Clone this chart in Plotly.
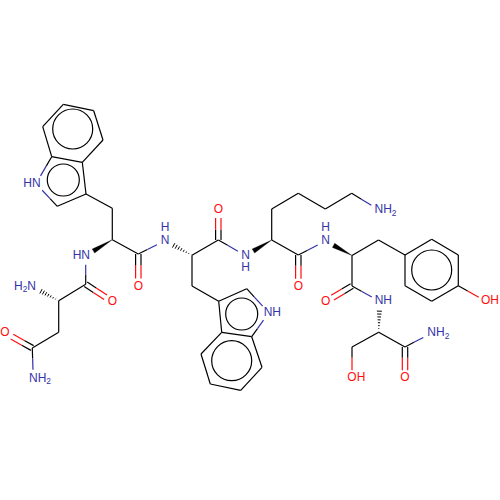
import math
import plotly.graph_objects as go

# ---- Data ----
atom_names = ["t1","t2","t3","t4","t5","t6","t7","t8","tN","tCH2","tCa","tCO","tO","tNH",
              "aCO","aO","aCa","aN","aCH2","aCO2","aO2","aN2",
              "uNH","uCa","uCO","uO","uCH2","u7","u8","uN","u6","u5","u4","u3","u2","u1",
              "kNH","kCa","kCO","kO","kB","kG","kD","kE","kNz",
              "yNH","yCa","yCO","yO","yCH2","y1","y2","y3","y4","y5","y6","yOH",
              "sNH","sCa","sCO","sO","sN","sCH2","sOH"]
atom_x = [42.7,63.3,93.7,103.0,82.3,51.7,86.0,57.3,36.0,112.3,112.3,138.3,138.3,85.7,
          85.7,112.3,58.7,32.3,58.7,32.3,5.0,33.3,
          165.0,192.0,218.3,218.3,192.0,218.7,246.7,268.7,251.7,221.7,201.0,210.3,240.7,262.0,
          245.7,271.7,298.3,298.3,271.7,298.3,325.3,351.7,379.0,
          325.7,352.0,352.0,325.7,378.5,405.0,431.7,458.3,458.3,431.7,405.0,485.7,
          379.7,378.7,405.0,405.0,431.3,352.0,352.0]
atom_y = [126.7,104.3,110.7,140.0,162.3,156.7,194.0,206.3,183.7,208.3,239.7,254.0,286.5,255.7,
          284.3,301.7,300.7,286.7,332.3,348.0,332.7,378.7,
          240.7,255.3,240.0,210.0,286.0,301.3,288.7,312.7,336.7,332.3,354.0,384.0,390.3,367.3,
          255.7,240.0,255.0,286.7,209.0,193.3,209.0,193.3,210.0,
          241.0,255.5,286.0,301.7,240.0,255.0,239.3,255.0,285.7,301.3,285.7,301.3,
          301.3,332.3,347.0,378.3,333.3,347.0,378.3]

single_from = ["t1","t2","t3","t4","t5","t6","t5","t7","t8","t6","t7","tCH2","tCa","tCO",
               "aCO","aCO","aCa","aCH2","aCO2",
               "uCa","uCa","uCH2","u7","u8","u6","u5","u4","u3","u2","u1","u1","u5","uCO",
               "kCa","kCa","kB","kG","kD","kE","kCO",
               "yCa","yCa","yCH2","y1","y2","y3","y4","y5","y6","y4","yCO",
               "sCa","sCO","sCa","sCH2"]
single_to = ["t2","t3","t4","t5","t6","t1","t7","t8","tN","tN","tCH2","tCa","tCO","uNH",
             "aCa","tNH","aCH2","aCO2","aN2",
             "uCO","uCH2","u7","u8","uN","uN","u6","u5","u4","u3","u2","u6","u7","kNH",
             "kCO","kB","kG","kD","kE","kNz","yNH",
             "yCO","yCH2","y1","y2","y3","y4","y5","y6","y1","yOH","sNH",
             "sCO","sN","sCH2","sOH"]
double_from = ["tCO","aCO","aCO2","uCO","kCO","yCO","sCO"]
double_to = ["tO","aO","aO2","uO","kO","yO","sO"]
wedge_from = ["tCa","kCa","yCa"]
wedge_to = ["tNH","kNH","yNH"]
hash_from = ["aCa","uCa","sCa"]
hash_to = ["aN","uNH","sNH"]
ring_x = [72.7,63.3,231.7,241.7,431.7]
ring_y = [129.0,180.0,360.7,314.0,270.0]
ring_r = [20,16,20,16,20]
label_text = ["HN","HN","H<sub>2</sub>N","O","O","O","NH<sub>2</sub>","N","H","O","NH","N","H","O",
              "NH<sub>2</sub>","N","H","O","NH","OH","NH<sub>2</sub>","O","OH"]
label_x = [32,81.3,25,138.3,112.3,5,40,165,165,218.3,272.3,245.7,245.7,298.3,
           385.5,325.7,325.7,325.7,383.3,490,438.3,405,356.3]
label_y = [183.7,255.7,286.7,286.5,301.7,332.7,378.7,240.7,228,210,312.7,255.7,268.4,286.7,
           210,241,228.3,301.7,301.3,301.3,333.3,378.3,378.3]
label_kind = ["N","N","N","O","O","O","N","N","N","O","N","N","N","O",
              "N","N","N","O","N","O","N","O","O"]

# ---- Styling ----
BLACK = "#000000"
BLUE = "#3333a8"
RED = "#ff0d0d"
COLOR = {"N": BLUE, "O": RED}
LW = 1.2
SPLIT = 0.34
GAP = {"N": 9.0, "O": 8.0}
DBL = 2.7
HETERO = {"tN","tO","tNH","aO","aN","aO2","aN2","uNH","uO","uN","kNH","kO","kNz",
          "yNH","yO","yOH","sNH","sO","sN","sOH"}

pos = {n: (x, y) for n, x, y in zip(atom_names, atom_x, atom_y)}

def kind(n):
    return "O" if "O" in n[1:] and n in HETERO else "N"

def segments(a, b, off=0.0):
    (x0, y0), (x1, y1) = pos[a], pos[b]
    if a in HETERO:
        (x0, y0), (x1, y1), a, b = (x1, y1), (x0, y0), b, a
    L = math.hypot(x1 - x0, y1 - y0)
    ux, uy = (x1 - x0) / L, (y1 - y0) / L
    nx, ny = -uy * off, ux * off
    x0, y0, x1, y1 = x0 + nx, y0 + ny, x1 + nx, y1 + ny
    if b not in HETERO:
        return [((x0, y0), (x1, y1), BLACK)]
    k = kind(b)
    mx, my = x0 + ux * L * SPLIT, y0 + uy * L * SPLIT
    ex, ey = x1 - ux * GAP[k], y1 - uy * GAP[k]
    return [((x0, y0), (mx, my), BLACK), ((mx, my), (ex, ey), COLOR[k])]

buckets = {BLACK: ([], []), BLUE: ([], []), RED: ([], [])}
def add(seglist):
    for p, q, c in seglist:
        buckets[c][0].extend([p[0], q[0], None])
        buckets[c][1].extend([p[1], q[1], None])

for a, b in zip(single_from, single_to):
    add(segments(a, b))
for a, b in zip(double_from, double_to):
    add(segments(a, b, DBL))
    add(segments(a, b, -DBL))

fig = go.Figure()
for c, (xs, ys) in buckets.items():
    fig.add_trace(go.Scatter(x=xs, y=ys, mode="lines", line=dict(color=c, width=LW),
                             hoverinfo="skip", showlegend=False))

# wedge bonds
for a, b in zip(wedge_from, wedge_to):
    (x0, y0), (x1, y1) = pos[a], pos[b]
    L = math.hypot(x1 - x0, y1 - y0)
    ux, uy = (x1 - x0) / L, (y1 - y0) / L
    ex, ey = x1 - ux * 9, y1 - uy * 9
    w = 2.4
    fig.add_trace(go.Scatter(x=[x0, ex - uy * w, ex + uy * w, x0],
                             y=[y0, ey + ux * w, ey - ux * w, y0],
                             mode="lines", fill="toself", fillcolor=BLACK,
                             line=dict(color=BLACK, width=0.3),
                             hoverinfo="skip", showlegend=False))

# hash bonds
for a, b in zip(hash_from, hash_to):
    (x0, y0), (x1, y1) = pos[a], pos[b]
    L = math.hypot(x1 - x0, y1 - y0)
    ux, uy = (x1 - x0) / L, (y1 - y0) / L
    run = L - 9
    xs, ys = [], []
    for i in range(8):
        t = run * (i + 0.3) / 7.6
        w = 2.6 * t / run
        cx, cy = x0 + ux * t, y0 + uy * t
        xs += [cx - uy * w, cx + uy * w, None]
        ys += [cy + ux * w, cy - ux * w, None]
    fig.add_trace(go.Scatter(x=xs, y=ys, mode="lines", line=dict(color=BLACK, width=1.0),
                             hoverinfo="skip", showlegend=False))

# labels
fig.add_trace(go.Scatter(x=label_x, y=label_y, mode="text", text=label_text,
                         textposition="middle center",
                         textfont=dict(family="Liberation Sans", size=12,
                                       color=[COLOR[k] for k in label_kind]),
                         hoverinfo="skip", showlegend=False))

shapes = [dict(type="circle", xref="x", yref="y",
               x0=x - r, x1=x + r, y0=y - r, y1=y + r,
               line=dict(color=BLACK, width=LW))
          for x, y, r in zip(ring_x, ring_y, ring_r)]

fig.update_layout(width=500, height=500, margin=dict(l=0, r=0, t=0, b=0),
                  paper_bgcolor="white", plot_bgcolor="white", shapes=shapes,
                  xaxis=dict(range=[0, 500], visible=False, fixedrange=True),
                  yaxis=dict(range=[500, 0], visible=False, fixedrange=True),
                  showlegend=False)
fig.write_html("out.html", config=dict(displayModeBar=False),
               post_script="document.body.style.margin='0';document.documentElement.style.overflow='hidden';")
